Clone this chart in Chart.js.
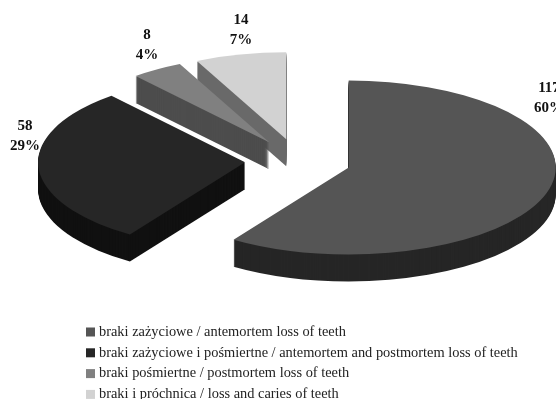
<!DOCTYPE html>
<html>
<head>
<meta charset="utf-8">
<style>
    html, body { margin: 0; padding: 0; background: #fff; overflow: hidden; }
    canvas { display: block; }
</style>
<script src="https://cdn.jsdelivr.net/npm/chart.js@4"></script>
</head>
<body>
<canvas id="teethChart" width="556" height="399"></canvas>
<script>
// Tooth loss categories
const categories = [
    'braki zażyciowe / antemortem loss of teeth',
    'braki zażyciowe i pośmiertne / antemortem and postmortem loss of teeth',
    'braki pośmiertne / postmortem loss of teeth',
    'braki i próchnica / loss and caries of teeth'
];
const counts = [117, 58, 8, 14];
const percentLabels = ['60%', '29%', '4%', '7%'];

const topColors = ['#555555', '#262626', '#808080', '#d2d2d2'];
const sideColors = ['#262626', '#111111', '#4d4d4d', '#696969'];

// Where the count/percent pairs sit (centre of the text block)
const labelSpots = [[549, 88], [25, 126], [147, 35], [241, 20]];

const tilt = 0.42;
const depth = 27;
const serif = '"Liberation Serif", "Times New Roman", serif';

// Outline of one exploded slice, lowered by d pixels on screen
function fillSlice(chart, arc, d, color) {
    const ctx = chart.ctx;
    const mid = (arc.startAngle + arc.endAngle) / 2;
    const x = arc.x + Math.cos(mid) * arc.options.offset;
    const y = arc.y + Math.sin(mid) * arc.options.offset;

    ctx.save();
    ctx.translate(0, arc.y + d);
    ctx.scale(1, tilt);
    ctx.translate(0, -arc.y);
    ctx.fillStyle = color;
    ctx.beginPath();
    ctx.moveTo(x, y);
    ctx.arc(x, y, arc.outerRadius, arc.startAngle, arc.endAngle);
    ctx.closePath();
    ctx.fill();
    ctx.restore();
}

// Fakes the 3D look: the stock arc draw is skipped so walls and squashed
// top faces can be painted from the arcs the controller laid out
const pie3d = {
    id: 'pie3d',
    beforeDatasetDraw(chart) {
        const arcs = chart.getDatasetMeta(0).data;

        for (let i = arcs.length - 1; i >= 0; i--) {
            for (let d = depth; d > 0; d--) {
                fillSlice(chart, arcs[i], d, sideColors[i]);
            }
            fillSlice(chart, arcs[i], 0, topColors[i]);
        }
        return false;
    },
    afterDraw(chart) {
        const ctx = chart.ctx;
        ctx.save();

        // value labels
        ctx.fillStyle = '#111';
        ctx.font = 'bold 15px ' + serif;
        ctx.textAlign = 'center';
        ctx.textBaseline = 'middle';
        labelSpots.forEach((spot, i) => {
            ctx.fillText(String(counts[i]), spot[0], spot[1]);
            ctx.fillText(percentLabels[i], spot[0], spot[1] + 20);
        });

        // legend
        ctx.font = '14.4px ' + serif;
        ctx.textAlign = 'left';
        categories.forEach((name, i) => {
            const y = 332 + i * 20.8;
            ctx.fillStyle = topColors[i];
            ctx.fillRect(86, y - 4.5, 9, 9);
            ctx.fillStyle = '#222';
            ctx.fillText(name, 99, y);
        });

        ctx.restore();
    }
};

new Chart(document.getElementById('teethChart'), {
    type: 'pie',
    data: {
        labels: categories,
        datasets: [{
            data: counts,
            backgroundColor: topColors,
            borderWidth: 0,
            offset: 53
        }]
    },
    options: {
        responsive: false,
        animation: false,
        radius: 207,
        layout: { padding: { left: 40, bottom: 77 } },
        plugins: {
            legend: { display: false },
            tooltip: { enabled: false }
        }
    },
    plugins: [pie3d]
});
</script>
</body>
</html>
